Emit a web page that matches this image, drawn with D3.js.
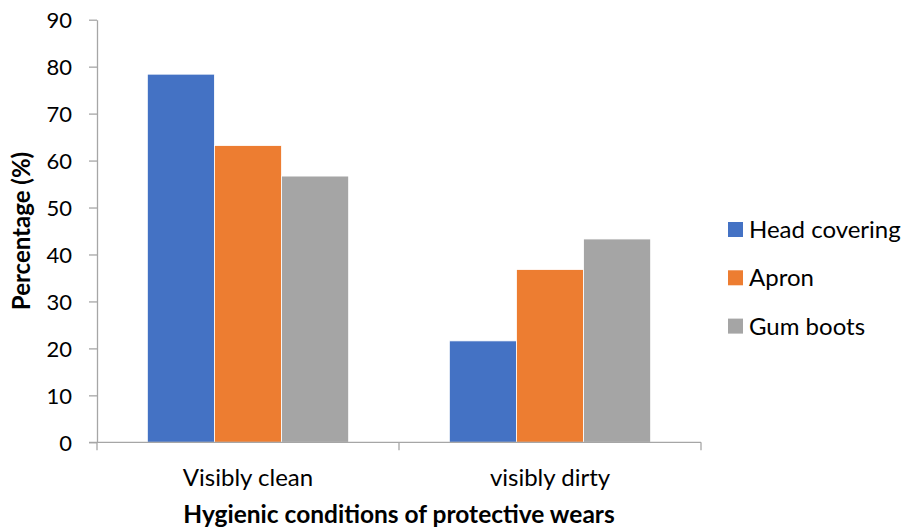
<!DOCTYPE html>
<html>
<head>
<meta charset="utf-8">
<script src="https://cdn.jsdelivr.net/npm/d3@7"></script>
<style>
  html, body { margin: 0; padding: 0; background: #fff; }
  svg { display: block; }
  text { font-family: Lato, "Open Sans", sans-serif; fill: #000; }
</style>
</head>
<body>
<svg id="chart" width="905" height="531"></svg>
<script>
const categories = ["Visibly clean", "visibly dirty"];
const seriesNames = ["Head covering", "Apron", "Gum boots"];
const headCovering = [78.4, 21.6];
const apron = [63.2, 36.8];
const gumBoots = [56.7, 43.3];
const yTicks = [0, 10, 20, 30, 40, 50, 60, 70, 80, 90];
const colors = ["#4472C4", "#ED7D31", "#A5A5A5"];
const seriesValues = [headCovering, apron, gumBoots];

const svg = d3.select("#chart");
const m = { left: 97, right: 701, top: 19.7, bottom: 442.3 };

const x0 = d3.scaleBand().domain(categories).range([m.left, m.right]).paddingInner(0).paddingOuter(0);
const y = d3.scaleLinear().domain([0, 90]).range([m.bottom, m.top]);
const bw = x0.bandwidth();
const gap = bw / (3 + 1.5) * 0.75;
const x1 = d3.scaleBand().domain(seriesNames).range([gap, bw - gap]).padding(0);

// bars
const groups = svg.append("g").selectAll("g").data(categories).join("g")
  .attr("transform", d => `translate(${x0(d)},0)`);
groups.selectAll("rect")
  .data((c, i) => seriesNames.map((s, j) => ({ s, j, v: seriesValues[j][i] })))
  .join("rect")
  .attr("x", d => x1(d.s))
  .attr("width", x1.bandwidth())
  .attr("y", d => y(d.v))
  .attr("height", d => y(0) - y(d.v))
  .attr("fill", d => colors[d.j])
  .attr("stroke", "#fff")
  .attr("stroke-width", 0.8);

// y axis
const yAxis = d3.axisLeft(y).tickValues(yTicks).tickSize(8).tickPadding(17).tickSizeOuter(0);
const gy = svg.append("g").attr("transform", `translate(${m.left},0)`).call(yAxis);
gy.select(".domain").attr("stroke", "#a6a6a6").attr("stroke-width", 1.3);
gy.selectAll(".tick line").attr("stroke", "#a6a6a6").attr("stroke-width", 1.3);
gy.selectAll(".tick text").style("font-size", "22px").style("font-family", "Lato, sans-serif").attr("fill", "#000").attr("dy", "0.36em");

// x axis
const gx = svg.append("g").attr("transform", `translate(0,${m.bottom})`);
gx.append("line").attr("x1", m.left - 8).attr("x2", m.right).attr("y1", 0).attr("y2", 0)
  .attr("stroke", "#a6a6a6").attr("stroke-width", 1.3);
const boundaries = [m.left, ...categories.map(c => x0(c) + bw)];
gx.selectAll("line.tk").data(boundaries).join("line").attr("class", "tk")
  .attr("x1", d => d).attr("x2", d => d).attr("y1", 0).attr("y2", 8)
  .attr("stroke", "#a6a6a6").attr("stroke-width", 1.3);
gx.selectAll("text.cat").data(categories).join("text").attr("class", "cat")
  .attr("x", d => x0(d) + bw / 2).attr("y", 43.7)
  .attr("text-anchor", "middle").style("font-size", "24px").text(d => d);

// axis titles
svg.append("text").attr("x", 399).attr("y", 523).attr("text-anchor", "middle")
  .style("font-size", "24.5px").style("font-weight", "bold").text("Hygienic conditions of protective wears");
svg.append("text").attr("transform", "translate(30,231) rotate(-90)").attr("text-anchor", "middle")
  .style("font-size", "24px").style("font-weight", "bold").text("Percentage (%)");

// legend
const lg = svg.append("g").selectAll("g").data(seriesNames).join("g")
  .attr("transform", (d, i) => `translate(728,${229.5 + i * 48.3})`);
lg.append("rect").attr("x", 0).attr("y", -7.5).attr("width", 15).attr("height", 15)
  .attr("fill", (d, i) => colors[i]);
lg.append("text").attr("x", 21).attr("y", 0).attr("dy", "0.36em")
  .style("font-size", "24px").text(d => d);
</script>
</body>
</html>
